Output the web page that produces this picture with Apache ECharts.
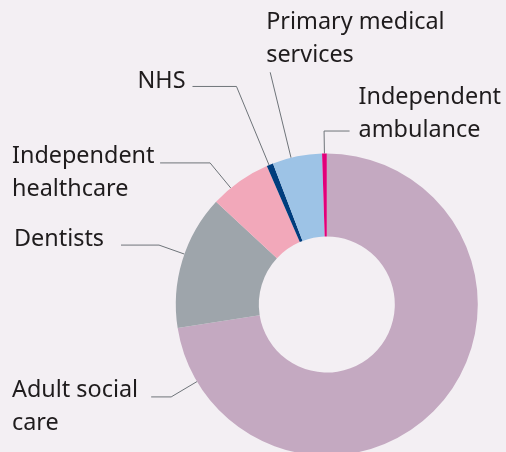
<!DOCTYPE html>
<html>
<head>
<meta charset="utf-8">
<script src="https://cdn.jsdelivr.net/npm/echarts@6/dist/echarts.min.js"></script>
<style>
  html, body { margin: 0; padding: 0; background: #f3eff3; }
  #chart { width: 506px; height: 452px; }
</style>
</head>
<body>
<div id="chart"></div>
<script>
// Registered services by sector (share of total, %)
const categories = ['Adult social care', 'Dentists', 'Independent healthcare', 'NHS', 'Primary medical services', 'Independent ambulance'];
const labelTexts = ['Adult social\ncare', 'Dentists', 'Independent\nhealthcare', 'NHS', 'Primary medical\nservices', 'Independent\nambulance'];
const shares = [72.5, 14.4, 6.6, 0.7, 5.3, 0.5];
const colors = ['#c4a9c1', '#9ea5ab', '#f2a8ba', '#003d7d', '#9dc3e6', '#e2007a'];

// Ring geometry
const CX = 326.8, CY = 304.5, R_IN = 68, R_OUT = 151;
const FONT_SIZE = 23.4, LINE_H = 33;
const BASE_OFF = 23.5; // line-box top to first baseline

// Leader lines: angle clockwise from 12 o'clock, radial run, horizontal tail,
// then where the text block sits relative to the tail end (or a fixed left x).
const leaders = [
  { angle: 239.3, run: 30,   tail: -20, align: 'left',  textX: 12, baseDy: 0.5 },
  { angle: 289.5, run: 27,   tail: -38, align: 'left',  textX: 14, baseDy: 1 },
  { angle: 320.5, run: 32.5, tail: -50, align: 'left',  textX: 12, baseDy: 0 },
  { angle: 337.5, run: 85,   tail: -44, align: 'right', dx: -7,    baseDy: 2 },
  { angle: 346.3, run: 88,   tail: 0,   align: 'left',  dx: -4,    baseDy: -43 },
  { angle: 359.1, run: 22.5, tail: 25.5, align: 'left', dx: 9,     baseDy: -27 }
];

const chart = echarts.init(document.getElementById('chart'), null, { renderer: 'canvas' });

chart.setOption({
  backgroundColor: '#f3eff3',
  animation: false,
  series: [{
    type: 'pie',
    center: [CX, CY],
    radius: [R_IN, R_OUT],
    startAngle: 90,
    clockwise: true,
    avoidLabelOverlap: false,
    silent: true,
    data: categories.map((name, i) => ({
      name: name,
      value: shares[i],
      itemStyle: { color: colors[i] }
    })),
    label: {
      show: true,
      position: 'outside',
      formatter: p => labelTexts[p.dataIndex],
      fontFamily: 'Noto Sans',
      fontSize: FONT_SIZE,
      lineHeight: LINE_H,
      color: '#1f1c1d'
    },
    labelLine: {
      show: true,
      lineStyle: { color: '#6e7479', width: 1 }
    },
    labelLayout: function (p) {
      const L = leaders[p.dataIndex];
      const a = L.angle * Math.PI / 180;
      const sx = CX + R_OUT * Math.sin(a), sy = CY - R_OUT * Math.cos(a);
      const ex = CX + (R_OUT + L.run) * Math.sin(a), ey = CY - (R_OUT + L.run) * Math.cos(a);
      const tx = ex + L.tail, ty = ey;
      return {
        x: L.textX != null ? L.textX : tx + L.dx,
        y: ty + L.baseDy - BASE_OFF,
        align: L.align,
        verticalAlign: 'top',
        labelLinePoints: [[sx, sy], [ex, ey], [tx, ty]]
      };
    }
  }]
});
</script>
</body>
</html>
